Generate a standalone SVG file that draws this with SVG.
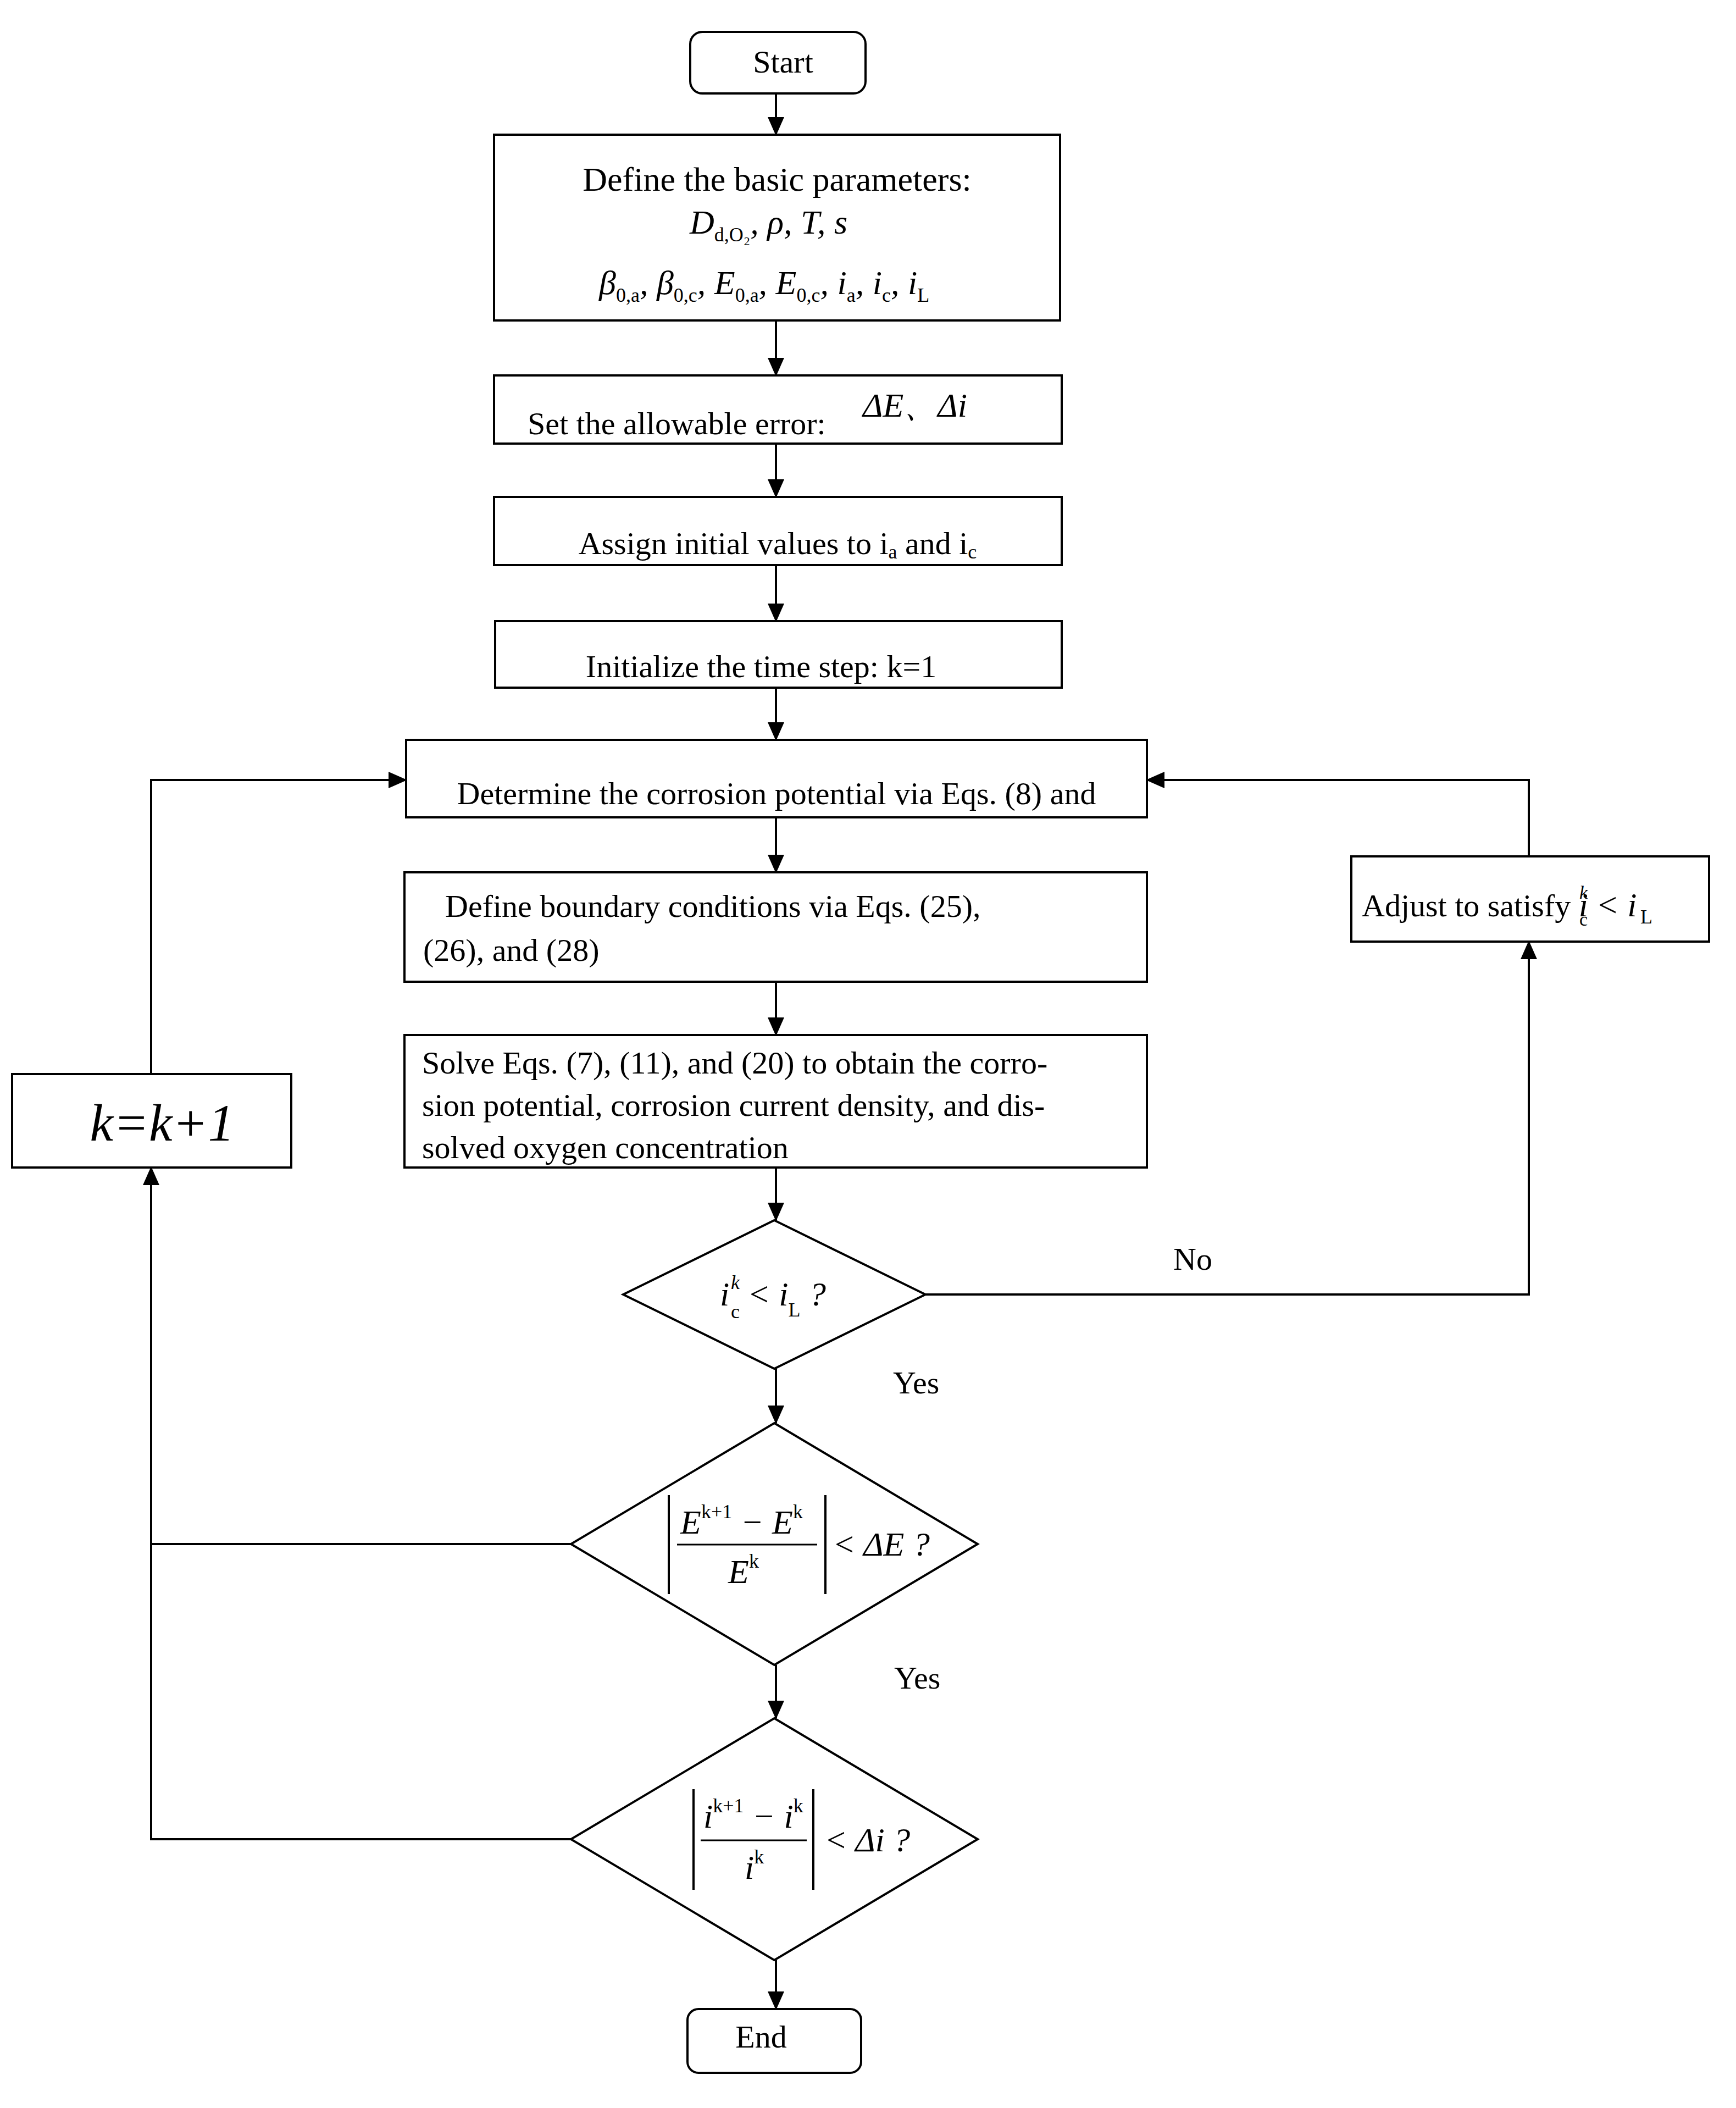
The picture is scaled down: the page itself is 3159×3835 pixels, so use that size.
<svg xmlns="http://www.w3.org/2000/svg" width="3159" height="3835" viewBox="0 0 3159 3835">
<defs>
<marker id="ah" markerWidth="34" markerHeight="30" refX="32" refY="15" orient="auto" markerUnits="userSpaceOnUse" viewBox="0 0 34 30"><path d="M0,0 L34,15 L0,30 z" fill="#000"/></marker>
<style>
.n{fill:#fff;stroke:#000;stroke-width:4}
.t{font-family:"Liberation Serif",serif;font-size:58px;fill:#000}
.m{font-family:"Liberation Serif",serif;font-style:italic;font-size:62px;fill:#000}
.s{font-size:36px;font-style:normal}
.c{text-anchor:middle}
.e line,.e path{stroke:#000;stroke-width:4;fill:none}
</style>
</defs>
<rect width="3159" height="3835" fill="#fff"/>
<g class="e">
<path d="M1412,170 V245" marker-end="url(#ah)"/>
<path d="M1412,583 V683" marker-end="url(#ah)"/>
<path d="M1412,807 V904" marker-end="url(#ah)"/>
<path d="M1412,1028 V1130" marker-end="url(#ah)"/>
<path d="M1412,1251 V1346" marker-end="url(#ah)"/>
<path d="M1412,1487 V1587" marker-end="url(#ah)"/>
<path d="M1412,1786 V1883" marker-end="url(#ah)"/>
<path d="M1412,2124 V2220" marker-end="url(#ah)"/>
<path d="M1412,2490 V2589" marker-end="url(#ah)"/>
<path d="M1412,3029 V3126" marker-end="url(#ah)"/>
<path d="M1412,3566 V3655" marker-end="url(#ah)"/>
<path d="M1684,2355 H2782 V1713" marker-end="url(#ah)"/>
<path d="M2782,1558 V1419 H2087" marker-end="url(#ah)"/>
<path d="M1039,2809 H275"/>
<path d="M1039,3346 H275 V2124" marker-end="url(#ah)"/>
<path d="M275,1954 V1419 H739" marker-end="url(#ah)"/>
</g>
<g id="start"><rect class="n" x="1256" y="58" width="319" height="112" rx="22"/><text class="t c" x="1425" y="132">Start</text></g>
<g id="params"><rect class="n" x="899" y="245" width="1030" height="338"/>
<text class="t c" x="1414" y="347" style="font-size:62px">Define the basic parameters:</text>
<text class="m" x="1255" y="425">D<tspan class="s" dy="14">d,O₂</tspan><tspan dy="-14">, ρ, T, s</tspan></text>
<text class="m" x="1090" y="535">β<tspan class="s" dy="14">0,a</tspan><tspan dy="-14">, β</tspan><tspan class="s" dy="14">0,c</tspan><tspan dy="-14">, E</tspan><tspan class="s" dy="14">0,a</tspan><tspan dy="-14">, E</tspan><tspan class="s" dy="14">0,c</tspan><tspan dy="-14">, i</tspan><tspan class="s" dy="14">a</tspan><tspan dy="-14">, i</tspan><tspan class="s" dy="14">c</tspan><tspan dy="-14">, i</tspan><tspan class="s" dy="14">L</tspan></text>
</g>
<g id="err"><rect class="n" x="899" y="683" width="1033" height="124"/>
<text class="t" x="960" y="790">Set the allowable error:</text>
<text class="m" x="1570" y="758">ΔE、Δi</text></g>
<g id="init"><rect class="n" x="899" y="904" width="1033" height="124"/>
<text class="t c" x="1415" y="1008">Assign initial values to i<tspan class="s" dy="8">a</tspan><tspan dy="-8"> and i</tspan><tspan class="s" dy="8">c</tspan></text></g>
<g id="step"><rect class="n" x="901" y="1130" width="1031" height="121"/>
<text class="t c" x="1385" y="1232">Initialize the time step: k=1</text></g>
<g id="pot"><rect class="n" x="739" y="1346" width="1348" height="141"/>
<text class="t c" x="1413" y="1463">Determine the corrosion potential via Eqs. (8) and</text></g>
<g id="bc"><rect class="n" x="736" y="1587" width="1351" height="199"/>
<text class="t" x="810" y="1668">Define  boundary  conditions  via  Eqs.  (25),</text>
<text class="t" x="770" y="1748">(26), and (28)</text></g>
<g id="solve"><rect class="n" x="736" y="1883" width="1351" height="241"/>
<text class="t" x="768" y="1953">Solve Eqs. (7), (11), and (20) to obtain the corro-</text>
<text class="t" x="768" y="2030">sion potential, corrosion current density, and dis-</text>
<text class="t" x="768" y="2107">solved oxygen concentration</text></g>
<g id="kk"><rect class="n" x="22" y="1954" width="508" height="170"/>
<text class="m c" x="295" y="2075" style="font-size:96px">k=k+1</text></g>
<g id="adjust"><rect class="n" x="2459" y="1558" width="651" height="155"/>
<text class="t" x="2478" y="1667">Adjust to satisfy <tspan class="m">i</tspan></text>
<text class="m" x="2874" y="1635" style="font-size:34px">k</text>
<text class="t" x="2874" y="1684" style="font-size:34px">c</text>
<text class="m" x="2904" y="1667">&lt; i</text>
<text class="t" x="2985" y="1680" style="font-size:36px">L</text></g>
<g id="d1"><polygon class="n" points="1409,2220 1684,2355 1409,2490 1134,2355"/>
<text class="m" x="1310" y="2375">i</text>
<text class="m" x="1330" y="2345" style="font-size:36px">k</text>
<text class="t" x="1330" y="2398" style="font-size:36px">c</text>
<text class="m" x="1360" y="2375">&lt; i<tspan class="s" dy="20">L</tspan><tspan dy="-20"> ?</tspan></text></g>
<g id="d2"><polygon class="n" points="1409,2589 1779,2809 1409,3029 1039,2809"/>
<line x1="1217" y1="2720" x2="1217" y2="2900" stroke="#000" stroke-width="4"/>
<line x1="1502" y1="2720" x2="1502" y2="2900" stroke="#000" stroke-width="4"/>
<line x1="1232" y1="2810" x2="1487" y2="2810" stroke="#000" stroke-width="3"/>
<text class="m" x="1238" y="2790">E<tspan class="s" font-style="italic" dy="-28">k+1</tspan><tspan dy="28"> − E</tspan><tspan class="s" font-style="italic" dy="-28">k</tspan></text>
<text class="m" x="1325" y="2880">E<tspan class="s" font-style="italic" dy="-28">k</tspan></text>
<text class="m" x="1515" y="2830">&lt; ΔE ?</text></g>
<g id="d3"><polygon class="n" points="1409,3126 1779,3346 1409,3566 1039,3346"/>
<line x1="1262" y1="3255" x2="1262" y2="3438" stroke="#000" stroke-width="4"/>
<line x1="1480" y1="3255" x2="1480" y2="3438" stroke="#000" stroke-width="4"/>
<line x1="1275" y1="3348" x2="1468" y2="3348" stroke="#000" stroke-width="3"/>
<text class="m" x="1280" y="3325">i<tspan class="s" font-style="italic" dy="-28">k+1</tspan><tspan dy="28"> − i</tspan><tspan class="s" font-style="italic" dy="-28">k</tspan></text>
<text class="m" x="1355" y="3418">i<tspan class="s" font-style="italic" dy="-28">k</tspan></text>
<text class="m" x="1500" y="3368">&lt; Δi ?</text></g>
<g id="end"><rect class="n" x="1251" y="3655" width="316" height="116" rx="20"/><text class="t c" x="1385" y="3725">End</text></g>
<text class="t" x="2135" y="2310">No</text>
<text class="t" x="1625" y="2535">Yes</text>
<text class="t" x="1627" y="3072">Yes</text>
</svg>
